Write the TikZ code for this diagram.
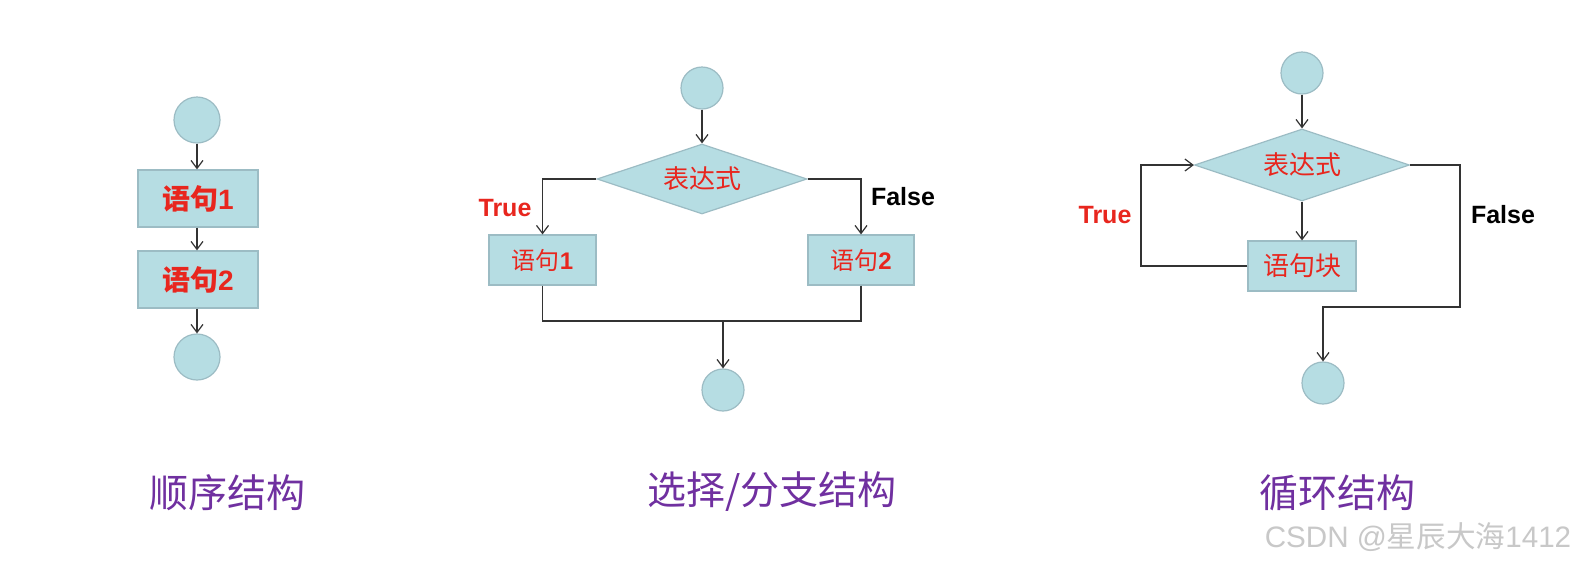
\documentclass[tikz,border=0pt]{standalone}
\usepackage{fontspec}
\setmainfont{Liberation Sans}
\newfontfamily\cjk{Noto Sans CJK SC}
\usetikzlibrary{shapes.geometric,arrows.meta}
\definecolor{nodefill}{HTML}{B6DDE3}
\definecolor{nodeline}{HTML}{9CBCC4}
\definecolor{txtred}{HTML}{E8261E}
\definecolor{titlepurple}{HTML}{7030A0}
\definecolor{wmgray}{HTML}{C8C8C8}
\definecolor{lnc}{HTML}{333333}
\begin{document}
\begin{tikzpicture}[x=0.5pt,y=-0.5pt,
  term/.style={circle,draw=nodeline,fill=nodefill,line width=0.6pt,minimum size=#1,inner sep=0pt},
  stmt/.style={rectangle,draw=nodeline,fill=nodefill,line width=0.6pt,inner sep=0pt,text=txtred},
  cond/.style={diamond,draw=nodeline,fill=nodefill,line width=0.6pt,inner sep=0pt,aspect=3,text=txtred,
     font=\cjk\fontsize{13pt}{15pt}\selectfont},
  conn/.style={draw=lnc,line width=0.7pt},
  arr/.style={conn,-{Straight Barb[length=4pt,width=6pt,line width=0.6pt]}},
  lbl/.style={font=\bfseries\fontsize{12.5pt}{14pt}\selectfont},
  ttl/.style={text=titlepurple,font=\cjk\fontsize{19.5pt}{22pt}\selectfont}
]
\useasboundingbox[fill=white] (0,0) rectangle (1579,564);

% ---- sequence
\node[term=23pt] (c1) at (197,120) {};
\node[stmt,minimum width=60pt,minimum height=28.5pt,font=\bfseries\fontsize{14pt}{16pt}\selectfont] (s1) at (198,198.5) {{\cjk 语句}1};
\node[stmt,minimum width=60pt,minimum height=28.5pt,font=\bfseries\fontsize{14pt}{16pt}\selectfont] (s2) at (198,279.5) {{\cjk 语句}2};
\node[term=23pt] (c2) at (197,357) {};
\draw[arr] (c1) -- (c1 |- s1.north);
\draw[arr] (s1.south -| c1) -- (c1 |- s2.north);
\draw[arr] (s2.south -| c1) -- (c2);

% ---- selection
\node[term=21pt] (c3) at (702,88) {};
\node[cond,minimum width=105pt,minimum height=35pt] (d1) at (702,179) {表达式};
\node[stmt,minimum width=53.5pt,minimum height=25pt,font=\bfseries\fontsize{12pt}{14pt}\selectfont] (b1) at (542.5,260) {{\cjk\mdseries 语句}1};
\node[stmt,minimum width=53pt,minimum height=25pt,font=\bfseries\fontsize{12pt}{14pt}\selectfont] (b2) at (861,260) {{\cjk\mdseries 语句}2};
\node[term=21pt] (c4) at (723,390) {};
\coordinate (j) at (723,321);
\draw[arr] (c3) -- (d1);
\draw[arr] (d1.west) -| (b1.north);
\draw[arr] (d1.east) -| (b2.north);
\draw[conn] (b1.south) |- (j);
\draw[conn] (b2.south) |- (j);
\draw[arr] (j) -- (c4);
\node[lbl,text=txtred] (t1) at (505,208) {True};
\node[lbl,text=black] (f1l) at (903,197) {False};

% ---- loop
\node[term=21pt] (c5) at (1302,73) {};
\node[cond,minimum width=107.5pt,minimum height=36pt] (d2) at (1302,165) {表达式};
\node[stmt,minimum width=54pt,minimum height=25pt,font=\cjk\fontsize{13pt}{15pt}\selectfont] (b3) at (1302,266) {语句块};
\node[term=21pt] (c6) at (1323,383) {};
\coordinate (lp) at (1141,266);
\coordinate (fp) at (1460,307);
\draw[arr] (c5) -- (d2);
\draw[arr] (d2) -- (b3);
\draw[arr] (b3.west) -- (lp) |- (d2.west);
\draw[arr] (d2.east) -| (fp) -| (c6.north);
\node[lbl,text=txtred] (t2) at (1105,215) {True};
\node[lbl,text=black] (f2l) at (1503,215) {False};

% ---- titles
\node[ttl] (tt1) at (227,493) {顺序结构};
\node[ttl] (tt2) at (772,492) {选择/分支结构};
\node[ttl] (tt3) at (1337,493) {循环结构};

% ---- watermark
\node[text=wmgray,font=\fontsize{14.8pt}{17pt}\selectfont] (wm) at (1418,537) {CSDN @{\cjk 星辰大海}1412};
\end{tikzpicture}
\end{document}
